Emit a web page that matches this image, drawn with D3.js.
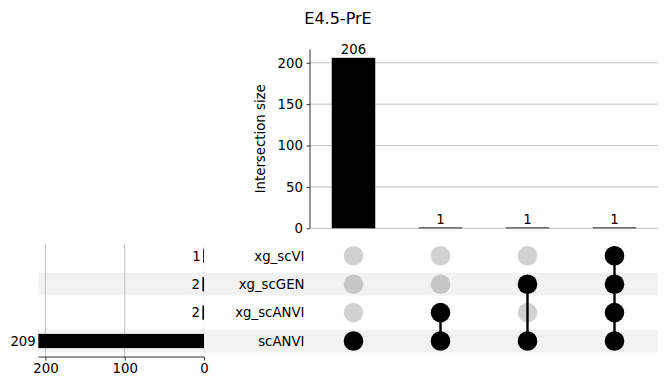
<!DOCTYPE html>
<html>
<head>
<meta charset="utf-8">
<script src="https://cdn.jsdelivr.net/npm/d3@7"></script>
<style>
  html, body { margin: 0; padding: 0; background: #fff; }
  svg { display: block; font-family: "DejaVu Sans", sans-serif; }
</style>
</head>
<body>
<div id="chart"></div>
<script>
// ---------------- data ----------------
const title = "E4.5-PrE";
const setNames = ["xg_scVI", "xg_scGEN", "xg_scANVI", "scANVI"];      // top to bottom
const setTotals = [1, 2, 2, 209];
const intersectionSizes = [206, 1, 1, 1];
const intersectionMembers = [
  ["scANVI"],
  ["xg_scANVI", "scANVI"],
  ["xg_scGEN", "scANVI"],
  ["xg_scVI", "xg_scGEN", "xg_scANVI", "scANVI"]
];
const topTicks = [0, 50, 100, 150, 200];
const totalTicks = [200, 100, 0];

// ---------------- layout ----------------
const W = 668, H = 391;
const FS = 13.3;
const svg = d3.select("#chart").append("svg").attr("width", W).attr("height", H);

const nCol = intersectionSizes.length;
const xCol = d3.scaleLinear().domain([-0.5, nCol - 0.5]).range([310, 658]);
const colStep = xCol(1) - xCol(0);
const yTop = d3.scaleLinear().domain([0, d3.max(intersectionSizes) * 1.05]).range([228.3, 49.3]);
const yRow = d3.scaleLinear().domain([0, setNames.length - 1]).range([255.8, 341]);
const rowStep = yRow(1) - yRow(0);
const xTot = d3.scaleLinear().domain([d3.max(setTotals), 0]).range([38.3, 204]);

// title
svg.append("text").attr("x", 338).attr("y", 23.5).attr("text-anchor", "middle")
  .attr("font-size", 16).attr("fill", "#000").text(title);

// ---------- shading bands ----------
setNames.forEach((s, i) => {
  if (i % 2 === 1) {
    svg.append("rect")
      .attr("x", xTot.range()[0]).attr("width", xCol.range()[1] - xTot.range()[0])
      .attr("y", yRow(i) - 0.4 * rowStep).attr("height", 0.8 * rowStep)
      .attr("fill", "#000").attr("fill-opacity", 0.05);
  }
});

// ---------- top bar chart ----------
const gTop = svg.append("g");
// gridlines
topTicks.forEach(t => {
  gTop.append("line").attr("x1", xCol.range()[0]).attr("x2", xCol.range()[1])
    .attr("y1", yTop(t)).attr("y2", yTop(t))
    .attr("stroke", "#b0b0b0").attr("stroke-width", 0.8);
});
gTop.selectAll("rect.bar").data(intersectionSizes).join("rect")
  .attr("class", "bar")
  .attr("x", (d, i) => xCol(i) - colStep * 0.25)
  .attr("width", colStep * 0.5)
  .attr("y", d => yTop(d))
  .attr("height", d => yTop(0) - yTop(d))
  .attr("fill", "#000");
gTop.selectAll("text.val").data(intersectionSizes).join("text")
  .attr("class", "val")
  .attr("x", (d, i) => xCol(i))
  .attr("y", d => yTop(d) - 3.5)
  .attr("text-anchor", "middle").attr("font-size", FS).attr("fill", "#000")
  .text(d => d);
// y axis
const yAxis = d3.axisLeft(yTop).tickValues(topTicks).tickSize(3.5).tickPadding(3.5);
const gy = svg.append("g").attr("transform", `translate(${xCol.range()[0]},0)`).call(yAxis);
gy.select(".domain").attr("d", `M0,${yTop.range()[0]}V${yTop.range()[1]}`).attr("stroke", "#000").attr("stroke-width", 0.8);
gy.selectAll(".tick line").attr("stroke", "#000").attr("stroke-width", 0.8);
gy.selectAll(".tick text").attr("font-size", FS).attr("font-family", "DejaVu Sans").attr("fill", "#000");
svg.append("text")
  .attr("transform", `translate(264.5,${(yTop.range()[0] + yTop.range()[1]) / 2}) rotate(-90)`)
  .attr("text-anchor", "middle").attr("font-size", FS).attr("fill", "#000")
  .text("Intersection size");

// ---------- totals (left) ----------
const gTot = svg.append("g");
totalTicks.forEach(t => {
  gTot.append("line").attr("x1", xTot(t)).attr("x2", xTot(t))
    .attr("y1", 244).attr("y2", 357)
    .attr("stroke", "#b0b0b0").attr("stroke-width", 0.8)
    .attr("stroke-opacity", t === 0 ? 0.3 : 1);
});
gTot.selectAll("rect.tot").data(setTotals).join("rect")
  .attr("class", "tot")
  .attr("x", d => xTot(d))
  .attr("width", d => xTot(0) - xTot(d))
  .attr("y", (d, i) => yRow(i) - rowStep * 0.25)
  .attr("height", rowStep * 0.5)
  .attr("fill", "#000");
gTot.selectAll("text.tv").data(setTotals).join("text")
  .attr("class", "tv")
  .attr("x", d => xTot(d) - 2.5)
  .attr("y", (d, i) => yRow(i))
  .attr("dy", "0.36em")
  .attr("text-anchor", "end").attr("font-size", FS).attr("fill", "#000")
  .text(d => d);
const xAxis = d3.axisBottom(xTot).tickValues(totalTicks).tickSize(3.5).tickPadding(3.5);
const gx = svg.append("g").attr("transform", "translate(0,357)").call(xAxis);
gx.select(".domain").attr("d", `M${xTot.range()[0]},0H${xTot.range()[1]}`).attr("stroke", "#000").attr("stroke-width", 0.8);
gx.selectAll(".tick line").attr("stroke", "#000").attr("stroke-width", 0.8);
gx.selectAll(".tick text").attr("font-size", FS).attr("font-family", "DejaVu Sans").attr("fill", "#000");

// ---------- row labels ----------
svg.selectAll("text.rl").data(setNames).join("text")
  .attr("class", "rl")
  .attr("x", 304.5).attr("y", (d, i) => yRow(i)).attr("dy", "0.36em")
  .attr("text-anchor", "end").attr("font-size", FS).attr("fill", "#000")
  .text(d => d);

// ---------- matrix ----------
const gM = svg.append("g");
intersectionMembers.forEach((mem, c) => {
  const idx = mem.map(m => setNames.indexOf(m));
  if (idx.length > 1) {
    gM.append("line")
      .attr("x1", xCol(c)).attr("x2", xCol(c))
      .attr("y1", yRow(d3.min(idx))).attr("y2", yRow(d3.max(idx)))
      .attr("stroke", "#000").attr("stroke-width", 2.4);
  }
  setNames.forEach((s, r) => {
    const on = mem.includes(s);
    gM.append("circle")
      .attr("cx", xCol(c)).attr("cy", yRow(r)).attr("r", 9.8)
      .attr("fill", "#000").attr("fill-opacity", on ? 1 : 0.18);
  });
});
</script>
</body>
</html>
